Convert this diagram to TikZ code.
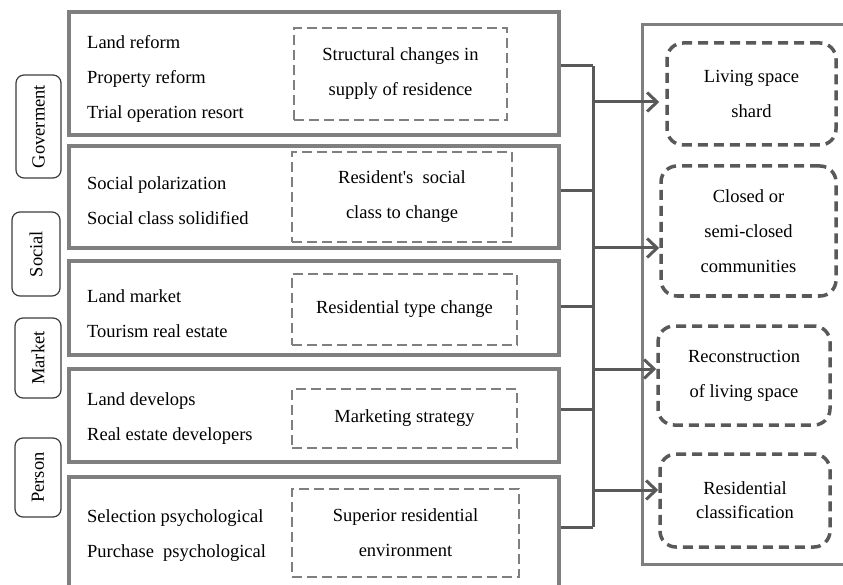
\documentclass[tikz,border=0pt]{standalone}
\usepackage{fontspec}
\setmainfont{Liberation Serif}
\usetikzlibrary{arrows.meta}
\definecolor{boxgray}{RGB}{127,127,127}
\definecolor{linegray}{RGB}{89,89,89}
\definecolor{sidegray}{RGB}{60,60,60}
\begin{document}
\begin{tikzpicture}[x=1pt,y=-1pt,
    every node/.style={font=\fontsize{18.5}{35}\selectfont, inner sep=0pt},
    outerbox/.style={draw=boxgray, line width=3.5pt, minimum width=490pt},
    factorbox/.style={draw=boxgray, line width=2.8pt, dash pattern=on 10pt off 5pt, align=center},
    sidebox/.style={draw=sidegray, line width=1.2pt, rounded corners=8pt, rotate=90},
    resultbox/.style={draw=linegray, line width=3.5pt, dash pattern=on 10pt off 6pt, rounded corners=16pt, align=center},
    link/.style={draw=linegray, line width=3pt},
    arrow/.style={link, -{Straight Barb[length=10pt,width=19pt]}}]
    \useasboundingbox (0,0) rectangle (843,585);

    % Driving forces
    \node[outerbox, minimum height=123pt] (b1) at (314,73.5) {};
    \node[anchor=west, align=left] (t1) at (87,79) {Land reform\\Property reform\\Trial operation resort};
    \node[factorbox, minimum width=213pt, minimum height=92pt] (d1) at (400.5,74) {Structural changes in\\supply of residence};

    \node[outerbox, minimum height=102pt] (b2) at (314,197) {};
    \node[anchor=west, align=left] (t2) at (87,200.5) {Social polarization\\Social class solidified};
    \node[factorbox, minimum width=220pt, minimum height=90pt] (d2) at (402,197) {Resident\textquotesingle s\ \ social\\class to change};

    \node[outerbox, minimum height=94pt] (b3) at (314,308) {};
    \node[anchor=west, align=left] (t3) at (87,314) {Land market\\Tourism real estate};
    \node[factorbox, minimum width=225pt, minimum height=71pt] (d3) at (404.5,309.5) {Residential type change};

    \node[outerbox, minimum height=93pt] (b4) at (314,415.5) {};
    \node[anchor=west, align=left] (t4) at (87,419) {Land develops\\Real estate developers};
    \node[factorbox, minimum width=225pt, minimum height=59pt] (d4) at (404.5,418.5) {Marketing strategy};

    \node[outerbox, minimum height=111pt] (b5) at (314,532.5) {};
    \node[anchor=west, align=left] (t5) at (87,535.5) {Selection psychological\\Purchase\ \ psychological};
    \node[factorbox, minimum width=227pt, minimum height=88pt] (d5) at (405.5,533) {Superior residential\\environment};

    % Actors
    \node[sidebox, minimum width=103pt, minimum height=45pt] (s1) at (38.5,126.5) {Goverment};
    \node[sidebox, minimum width=84pt, minimum height=48pt] (s2) at (36,254) {Social};
    \node[sidebox, minimum width=80pt, minimum height=46pt] (s3) at (38,358) {Market};
    \node[sidebox, minimum width=79pt, minimum height=46pt] (s4) at (38,477.5) {Person};

    % Results
    \node[draw=boxgray, line width=3pt, minimum width=220pt, minimum height=539pt] (frame) at (752,294.5) {};
    \node[resultbox, minimum width=169pt, minimum height=102pt] (r1) at (751.5,94) {Living space\\shard};
    \node[resultbox, minimum width=175pt, minimum height=130pt] (r2) at (748.5,231) {Closed or\\semi-closed\\communities};
    \node[resultbox, minimum width=172pt, minimum height=99pt] (r3) at (744,375.5) {Reconstruction\\of living space};
    \node[resultbox, minimum width=170pt, minimum height=93pt, font=\fontsize{18.5}{24}\selectfont] (r4) at (745,500.5) {Residential\\classification};

    % Links
    \coordinate (j1) at (593,66);
    \coordinate (j2) at (593,191);
    \coordinate (j3) at (593,306);
    \coordinate (j4) at (593,409);
    \coordinate (j5) at (593,527);
    \draw[link] (b1.east |- j1) -- (j1);
    \draw[link] (b2.east |- j2) -- (j2);
    \draw[link] (b3.east |- j3) -- (j3);
    \draw[link] (b4.east |- j4) -- (j4);
    \draw[link] (b5.east |- j5) -- (j5);
    \draw[link] (j1) -- (j5);

    \coordinate (a1) at (593,102);
    \coordinate (a2) at (593,248);
    \coordinate (a3) at (593,369);
    \coordinate (a4) at (593,490);
    \draw[arrow, shorten >=6pt] (a1) -- (a1 -| r1.west);
    \draw[arrow] (a2) -- (a2 -| r2.west);
    \draw[arrow] (a3) -- (a3 -| r3.west);
    \draw[arrow] (a4) -- (a4 -| r4.west);
\end{tikzpicture}
\end{document}
